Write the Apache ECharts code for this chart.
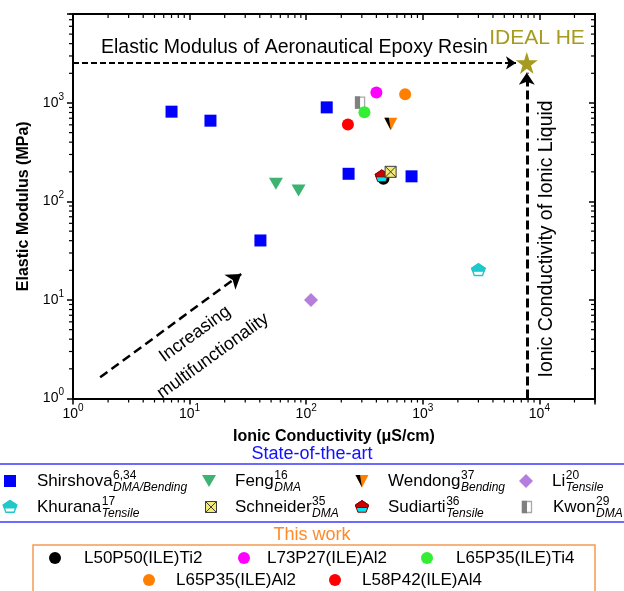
<!DOCTYPE html>
<html>
<head>
<meta charset="utf-8">
<script src="https://cdn.jsdelivr.net/npm/echarts@6/dist/echarts.min.js"></script>
<style>
  html, body { margin: 0; padding: 0; background: #fff; }
  #chart { width: 624px; height: 591px; }
</style>
</head>
<body>
<div id="chart"></div>
<script>
// Ionic conductivity (µS/cm) vs elastic modulus (MPa), log-log
const shirshova = [[7, 816], [15.1, 661], [40.5, 40.2], [150, 902], [231, 191], [801, 180]];
const feng = [[55, 151], [86, 129]];
const wendong = [[532, 616]];
const li = [[110, 10]];
const khurana = [[3000, 20]];
const schneider = [[530, 200]];
const sudiarti = [[445, 180]];
const kwon = [[290, 1010]];

const l50p50Ti2 = [[460, 170]];
const l73p27Al2 = [[400, 1280]];
const l65p35Ti4 = [[316, 803]];
const l65p35Al2 = [[706, 1223]];
const l58p42Al4 = [[228, 606]];

const idealHE = [[7800, 2550]];
const epoxyArrow = [[1, 2550], [6300, 2550]];
const liquidArrow = [[7800, 1], [7800, 2030]];
const trendArrow = [[1.71, 1.64], [27.7, 18.4]];

const xRange = [1, 30000];
const yRange = [1, 8000];

const FONT = '"Liberation Sans", Arial, Helvetica, sans-serif';
const BLACK = '#000000';
const OLIVE = '#a69b1f';

// minor log ticks (2..9 x 10^k) inside an axis range
function minorTicks(range) {
  const out = [];
  for (let k = Math.floor(Math.log10(range[0])); k <= Math.ceil(Math.log10(range[1])); k++) {
    for (let m = 2; m <= 9; m++) {
      const v = m * Math.pow(10, k);
      if (v > range[0] && v <= range[1]) out.push(v);
    }
  }
  return out;
}
const xMinor = minorTicks(xRange);
const yMinor = minorTicks(yRange);

// ---------- marker shapes (shared by plot and legend) ----------
function pentagonParts(cx, cy, r, split) {
  const pts = [];
  for (let k = 0; k < 5; k++) {
    const a = -Math.PI / 2 + k * 2 * Math.PI / 5;
    pts.push([cx + r * Math.cos(a), cy + r * 0.92 * Math.sin(a)]);
  }
  const ys = cy + split;
  const cut = (p, q) => { const t = (ys - p[1]) / (q[1] - p[1]); return [p[0] + t * (q[0] - p[0]), ys]; };
  const upper = [pts[0], pts[1], cut(pts[1], pts[2]), cut(pts[4], pts[3]), pts[4]];
  return { full: pts, upper };
}

const SHAPES = {
  shirshova: (x, y) => [
    { type: 'rect', shape: { x: x - 6, y: y - 6, width: 12, height: 12 }, style: { fill: '#0000ff' } }
  ],
  feng: (x, y) => [
    { type: 'polygon', shape: { points: [[x - 7, y - 6], [x + 7, y - 6], [x, y + 6]] }, style: { fill: '#3cb371' } }
  ],
  wendong: (x, y) => [
    { type: 'polygon', shape: { points: [[x - 6.5, y - 6], [x + 6.5, y - 6], [x, y + 6.5]] }, style: { fill: '#ff8000' } },
    { type: 'polygon', shape: { points: [[x - 6.5, y - 6], [x - 2, y - 6], [x, y + 6.5]] }, style: { fill: BLACK } }
  ],
  li: (x, y) => [
    { type: 'polygon', shape: { points: [[x, y - 7], [x + 7, y], [x, y + 7], [x - 7, y]] }, style: { fill: '#b57edc' } }
  ],
  khurana: (x, y) => {
    const p = pentagonParts(x, y, 7, 0.8);
    return [
      { type: 'polygon', shape: { points: p.full }, style: { fill: '#ffffff', stroke: '#1fc9c9', lineWidth: 1.4 } },
      { type: 'polygon', shape: { points: p.upper }, style: { fill: '#1fc9c9', stroke: '#1fc9c9', lineWidth: 1.4 } }
    ];
  },
  schneider: (x, y) => [
    { type: 'rect', shape: { x: x - 5.5, y: y - 5.5, width: 11, height: 11 }, style: { fill: '#f3eb78', stroke: '#3c3c3c', lineWidth: 1 } },
    { type: 'line', shape: { x1: x - 5.5, y1: y - 5.5, x2: x + 5.5, y2: y + 5.5 }, style: { stroke: '#3c3c3c', lineWidth: 1 } },
    { type: 'line', shape: { x1: x + 5.5, y1: y - 5.5, x2: x - 5.5, y2: y + 5.5 }, style: { stroke: '#3c3c3c', lineWidth: 1 } }
  ],
  sudiarti: (x, y) => {
    const p = pentagonParts(x, y, 7, 0.5);
    return [
      { type: 'polygon', shape: { points: p.full }, style: { fill: '#00e5f0', stroke: '#8b0000', lineWidth: 1 } },
      { type: 'polygon', shape: { points: p.upper }, style: { fill: '#cc0000', stroke: '#8b0000', lineWidth: 1 } }
    ];
  },
  kwon: (x, y) => [
    { type: 'rect', shape: { x: x - 4.5, y: y - 5.5, width: 9, height: 11 }, style: { fill: '#ffffff', stroke: '#a8a8a8', lineWidth: 1.3 } },
    { type: 'rect', shape: { x: x - 5.2, y: y - 6.2, width: 5.2, height: 12.4 }, style: { fill: '#808080' } }
  ],
  dot: color => (x, y) => [
    { type: 'circle', shape: { cx: x, cy: y, r: 6 }, style: { fill: color } }
  ]
};

function markerSeries(name, data, shapeKey, z) {
  return {
    type: 'custom', name, data, z,
    coordinateSystem: 'cartesian2d', xAxisIndex: 0, yAxisIndex: 0,
    renderItem(params, api) {
      const p = api.coord([api.value(0), api.value(1)]);
      return { type: 'group', children: SHAPES[shapeKey](p[0], p[1]) };
    }
  };
}

function scatterSeries(name, data, symbol, size, color, z, rotate) {
  return {
    type: 'scatter', name, data, z, symbol, symbolSize: size, symbolRotate: rotate || 0,
    itemStyle: { color, opacity: 1 }, emphasis: { disabled: true }
  };
}

// ---------- tick labels ----------
function powerLabel(v) {
  const e = Math.log10(v);
  const r = Math.round(e);
  if (Math.abs(e - r) > 1e-6) return '';
  return '{b|10}{s|' + r + '}';
}
const tickRich = {
  b: { fontFamily: FONT, fontSize: 14, color: BLACK, lineHeight: 22 },
  s: { fontFamily: FONT, fontSize: 10, color: BLACK, verticalAlign: 'top' }
};

const axisLine = { show: true, onZero: false, lineStyle: { color: BLACK, width: 2 } };

function logAxis(range, position, main, extra) {
  return Object.assign({
    type: 'log', logBase: 10, min: range[0], max: range[1], position,
    axisLine,
    axisTick: { show: true, inside: !main, length: 6, lineStyle: { color: BLACK, width: 1.5 } },
    axisLabel: main
      ? { show: true, formatter: powerLabel, rich: tickRich, hideOverlap: false, showMaxLabel: false }
      : { show: false },
    splitLine: { show: false },
    minorTick: { show: false }
  }, extra || {});
}

// ---------- minor tick renderers ----------
function xMinorTicks(params, api) {
  const cs = params.coordSys;
  const px = api.coord([api.value(0), yRange[0]])[0];
  const bottom = cs.y + cs.height;
  const st = { stroke: BLACK, lineWidth: 1.2 };
  return { type: 'group', children: [
    { type: 'line', shape: { x1: px, y1: bottom, x2: px, y2: bottom + 4 }, style: st },
    { type: 'line', shape: { x1: px, y1: cs.y, x2: px, y2: cs.y + 4 }, style: st }
  ] };
}
function yMinorTicks(params, api) {
  const cs = params.coordSys;
  const py = api.coord([xRange[0], api.value(1)])[1];
  const right = cs.x + cs.width;
  const st = { stroke: BLACK, lineWidth: 1.2 };
  return { type: 'group', children: [
    { type: 'line', shape: { x1: cs.x, y1: py, x2: cs.x - 4, y2: py }, style: st },
    { type: 'line', shape: { x1: right, y1: py, x2: right - 4, y2: py }, style: st }
  ] };
}

// ---------- legend (drawn as graphic elements) ----------
const measureCtx = document.createElement('canvas').getContext('2d');
function textWidth(str, font) { measureCtx.font = font; return measureCtx.measureText(str).width; }

function txt(text, x, y, opts) {
  const o = opts || {};
  const size = o.size || 17;
  const font = (o.italic ? 'italic ' : '') + (o.bold ? 'bold ' : '') + size + 'px ' + FONT;
  return {
    type: 'text', x, y, rotation: o.rotation || 0, silent: true,
    style: {
      text, font, fill: o.color || BLACK,
      align: o.align || 'left', verticalAlign: o.valign || 'middle',
      textAlign: o.align || 'left', textVerticalAlign: o.valign || 'middle'
    }
  };
}

const LEG_SIZE = 17;
function legendEntry(shapeKey, mx, tx, y, name, sup, sub) {
  const w = textWidth(name, LEG_SIZE + 'px ' + FONT);
  return [
    ...SHAPES[shapeKey](mx, y),
    txt(name, tx, y, { size: LEG_SIZE }),
    txt(sup, tx + w + 0.5, y - 5, { size: 12 }),
    txt(sub, tx + w + 0.5, y + 7, { size: 12, italic: true })
  ];
}

const stateRows = [
  ['shirshova', 10, 37, 481, 'Shirshova', '6,34', 'DMA/Bending'],
  ['feng', 209, 235, 481, 'Feng', '16', 'DMA'],
  ['wendong', 362, 388, 481, 'Wendong', '37', 'Bending'],
  ['li', 526, 552, 481, 'Li', '20', 'Tensile'],
  ['khurana', 10, 37, 507, 'Khurana', '17', 'Tensile'],
  ['schneider', 211, 235, 507, 'Schneider', '35', 'DMA'],
  ['sudiarti', 362, 388, 507, 'Sudiarti', '36', 'Tensile'],
  ['kwon', 527, 553, 507, 'Kwon', '29', 'DMA']
];

const workRows = [
  ['#000000', 55, 84, 558, 'L50P50(ILE)Ti2'],
  ['#ff00ff', 244, 267, 558, 'L73P27(ILE)Al2'],
  ['#33ee33', 427, 456, 558, 'L65P35(ILE)Ti4'],
  ['#ff8000', 149, 176, 580, 'L65P35(ILE)Al2'],
  ['#ff0000', 335, 362, 580, 'L58P42(ILE)Al4']
];

const legendGraphics = [];
legendGraphics.push(txt('State-of-the-art', 312, 454, { size: 18, align: 'center', color: '#1010ff' }));
legendGraphics.push({ type: 'line', silent: true, shape: { x1: 0, y1: 464, x2: 624, y2: 464 }, style: { stroke: '#3a3aff', lineWidth: 1.5 } });
stateRows.forEach(r => legendGraphics.push(...legendEntry(...r)));
legendGraphics.push({ type: 'line', silent: true, shape: { x1: 0, y1: 522, x2: 624, y2: 522 }, style: { stroke: '#3a3aff', lineWidth: 1.5 } });
legendGraphics.push(txt('This work', 312, 535, { size: 18, align: 'center', color: '#ff8a2a' }));
legendGraphics.push({ type: 'rect', silent: true, shape: { x: 33, y: 545, width: 562, height: 60 }, style: { fill: 'none', stroke: '#f59a50', lineWidth: 1.5 } });
workRows.forEach(r => {
  legendGraphics.push(...SHAPES.dot(r[0])(r[1], r[3]));
  legendGraphics.push(txt(r[4], r[2], r[3], { size: LEG_SIZE }));
});

// annotations inside the plot
const annotations = [
  txt('Elastic Modulus of Aeronautical Epoxy Resin', 101, 48, { size: 19.5 }),
  txt('IDEAL HE', 537, 38, { size: 21, align: 'center', color: OLIVE }),
  txt('Ionic Conductivity of Ionic Liquid', 547, 239, { size: 19.4, align: 'center', rotation: Math.PI / 2 }),
  txt('Increasing', 195, 334, { size: 18, align: 'center', rotation: 36 * Math.PI / 180 }),
  txt('multifunctionality', 213, 356, { size: 18, align: 'center', rotation: 36 * Math.PI / 180 })
];

// ---------- chart ----------
const chart = echarts.init(document.getElementById('chart'), null, { renderer: 'canvas' });

const STAR = 'path://M50,0 L61.2,34.5 L97.6,34.5 L68.2,55.9 L79.4,90.5 L50,69.1 L20.6,90.5 L31.8,55.9 L2.4,34.5 L38.8,34.5 Z';

function arrowSeries(coords, width, dash, head) {
  return {
    type: 'lines', coordinateSystem: 'cartesian2d', silent: true, z: 3,
    data: [{ coords }],
    symbol: ['none', 'arrow'], symbolSize: head,
    lineStyle: { color: BLACK, width, type: dash, opacity: 1, curveness: 0 }
  };
}

chart.setOption({
  animation: false,
  backgroundColor: '#ffffff',
  textStyle: { fontFamily: FONT },
  grid: { left: 73, top: 14, right: 29, bottom: 192.5, containLabel: false },
  xAxis: [
    logAxis(xRange, 'bottom', true, {
      name: 'Ionic Conductivity (μS/cm)', nameLocation: 'middle', nameGap: 30,
      nameTextStyle: { fontFamily: FONT, fontSize: 16, fontWeight: 'bold', color: BLACK },
      axisLabel: { show: true, formatter: powerLabel, rich: tickRich, margin: 5, hideOverlap: false }
    }),
    logAxis(xRange, 'top', false)
  ],
  yAxis: [
    logAxis(yRange, 'left', true, {
      name: 'Elastic Modulus (MPa)', nameLocation: 'middle', nameGap: 41,
      nameTextStyle: { fontFamily: FONT, fontSize: 16, fontWeight: 'bold', color: BLACK },
      axisLabel: { show: true, formatter: powerLabel, rich: tickRich, margin: 9, hideOverlap: false }
    }),
    logAxis(yRange, 'right', false)
  ],
  series: [
    { type: 'custom', silent: true, z: 10, data: xMinor.map(v => [v, yRange[0]]), renderItem: xMinorTicks, clip: false },
    { type: 'custom', silent: true, z: 10, data: yMinor.map(v => [xRange[0], v]), renderItem: yMinorTicks, clip: false },
    arrowSeries(epoxyArrow, 2, [6, 3], 10),
    arrowSeries(liquidArrow, 3, [9, 4], 12),
    arrowSeries(trendArrow, 2.5, [9, 5], 14),
    scatterSeries('L50P50(ILE)Ti2', l50p50Ti2, 'circle', 12, '#000000', 2),
    scatterSeries('Shirshova', shirshova, 'rect', 12, '#0000ff', 4),
    scatterSeries('Feng', feng, 'triangle', [14, 12], '#3cb371', 4, 180),
    scatterSeries('Li', li, 'diamond', 14, '#b57edc', 4),
    markerSeries('Wendong', wendong, 'wendong', 4),
    markerSeries('Khurana', khurana, 'khurana', 4),
    markerSeries('Sudiarti', sudiarti, 'sudiarti', 5),
    markerSeries('Schneider', schneider, 'schneider', 6),
    markerSeries('Kwon', kwon, 'kwon', 4),
    scatterSeries('L73P27(ILE)Al2', l73p27Al2, 'circle', 12, '#ff00ff', 7),
    scatterSeries('L65P35(ILE)Ti4', l65p35Ti4, 'circle', 12, '#33ee33', 7),
    scatterSeries('L65P35(ILE)Al2', l65p35Al2, 'circle', 12, '#ff8000', 7),
    scatterSeries('L58P42(ILE)Al4', l58p42Al4, 'circle', 12, '#ff0000', 7),
    scatterSeries('IDEAL HE', idealHE, STAR, 22, OLIVE, 8)
  ],
  graphic: { elements: [...annotations, ...legendGraphics] }
});
</script>
</body>
</html>
